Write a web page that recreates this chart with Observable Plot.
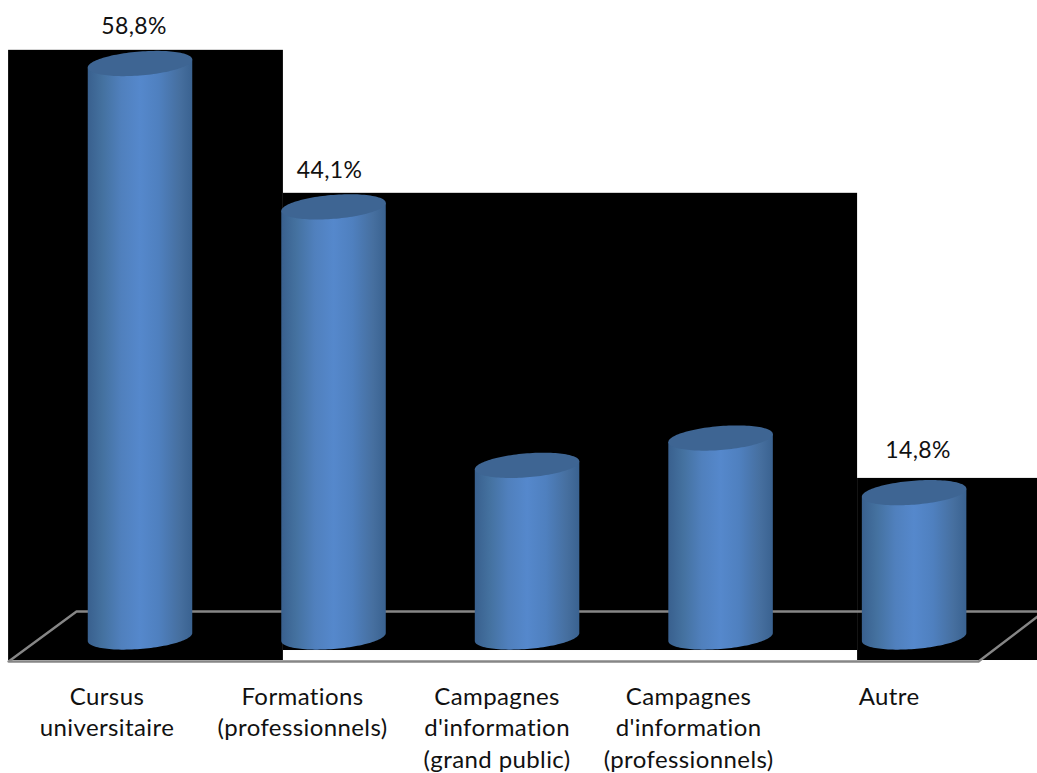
<!DOCTYPE html>
<html>
<head>
<meta charset="utf-8">
<script src="https://cdn.jsdelivr.net/npm/d3@7"></script>
<script src="https://cdn.jsdelivr.net/npm/@observablehq/plot@0.6"></script>
<style>html,body{margin:0;padding:0;background:#fff;overflow:hidden}</style>
</head>
<body>
<div id="chart"></div>
<script>
const categories = ["Cursus\nuniversitaire", "Formations\n(professionnels)", "Campagnes\nd'information\n(grand public)", "Campagnes\nd'information\n(professionnels)", "Autre"];
const values = [58.8, 44.1, 17.6, 20.4, 14.8];
const shownLabels = ["58,8%", "44,1%", null, null, "14,8%"];
const labelDx = [-6, -4, 0, 0, 4];
const labelDy = [-37, -36, 0, 0, -42];
const tickDx = [-33, -31, -30, -32, -25];

// cylinder shape, in scale units
const halfWidth = 0.27, minor = 1.23, tilt = 0.41, segs = 60;
const ell = (i, v, t) => ({i, x: i + halfWidth * Math.cos(t), y: v + tilt * Math.cos(t) - minor * Math.sin(t)});
const angles = d3.range(segs + 1).map(k => Math.PI * k / segs);
const bodies = values.flatMap((v, i) => [
  ell(i, v, Math.PI), ell(i, v, 0),
  ...angles.map(t => ell(i, 0, t))
]);
const caps = values.flatMap((v, i) => d3.range(2 * segs).map(k => ell(i, v, Math.PI * k / segs)));

// black backdrop regions, in scale units
const backdrop = [
  {x1: -0.679, x2: 0.741, y1: -2.41, y2: 60.15},
  {x1: 0.741, x2: 3.708, y1: -1.385, y2: 45.49},
  {x1: 3.708, x2: 4.65, y1: -2.41, y2: 16.26}
];
const floor = [
  {x: 4.65, y: 2.62}, {x: -0.328, y: 2.62}, {x: -0.679, y: -2.51},
  {x: 4.333, y: -2.51}, {x: 4.638, y: 2.1}
];

const defs = () => {
  const d = d3.create("svg:defs");
  d.html(`<linearGradient id="cyl" x1="0" x2="1" y1="0" y2="0">
    <stop offset="0" stop-color="#39608e"/>
    <stop offset="0.14" stop-color="#44719f"/>
    <stop offset="0.32" stop-color="#5080bd"/>
    <stop offset="0.5" stop-color="#5588cc"/>
    <stop offset="0.68" stop-color="#4f80bf"/>
    <stop offset="0.88" stop-color="#466f9f"/>
    <stop offset="1" stop-color="#3a6290"/>
  </linearGradient>`);
  return d.node();
};

const chart = Plot.plot({
  width: 1037,
  height: 773,
  margin: 0,
  style: {background: "#fff", fontFamily: "Lato, Carlito, sans-serif", letterSpacing: "0.4px"},
  x: {type: "linear", domain: [0, 4], range: [139.5, 913.6], axis: null},
  y: {type: "linear", domain: [0, 58.8], range: [636.5, 63], axis: null},
  marks: [
    defs,
    Plot.rect(backdrop, {x1: "x1", x2: "x2", y1: "y1", y2: "y2", fill: "#000"}),
    Plot.line(floor, {x: "x", y: "y", stroke: "#868686", strokeWidth: 2.4, curve: "linear"}),
    Plot.line(bodies, {x: "x", y: "y", z: "i", fill: "url(#cyl)", stroke: "none", curve: "linear"}),
    Plot.line(caps, {x: "x", y: "y", z: "i", fill: "#3e6593", stroke: "none", curve: "linear"}),
    ...values.map((v, i) => shownLabels[i] && Plot.text([shownLabels[i]], {
      x: () => i, y: () => v, text: d => d,
      dx: labelDx[i], dy: labelDy[i],
      fontSize: 23, fill: "#111"
    })),
    ...categories.map((c, i) => Plot.text([c], {
      x: () => i, y: () => 0, text: d => d,
      dx: tickDx[i], dy: 45,
      lineAnchor: "top", lineHeight: 1.32,
      fontSize: 24, fill: "#111"
    }))
  ]
});
document.getElementById("chart").appendChild(chart);
</script>
</body>
</html>
